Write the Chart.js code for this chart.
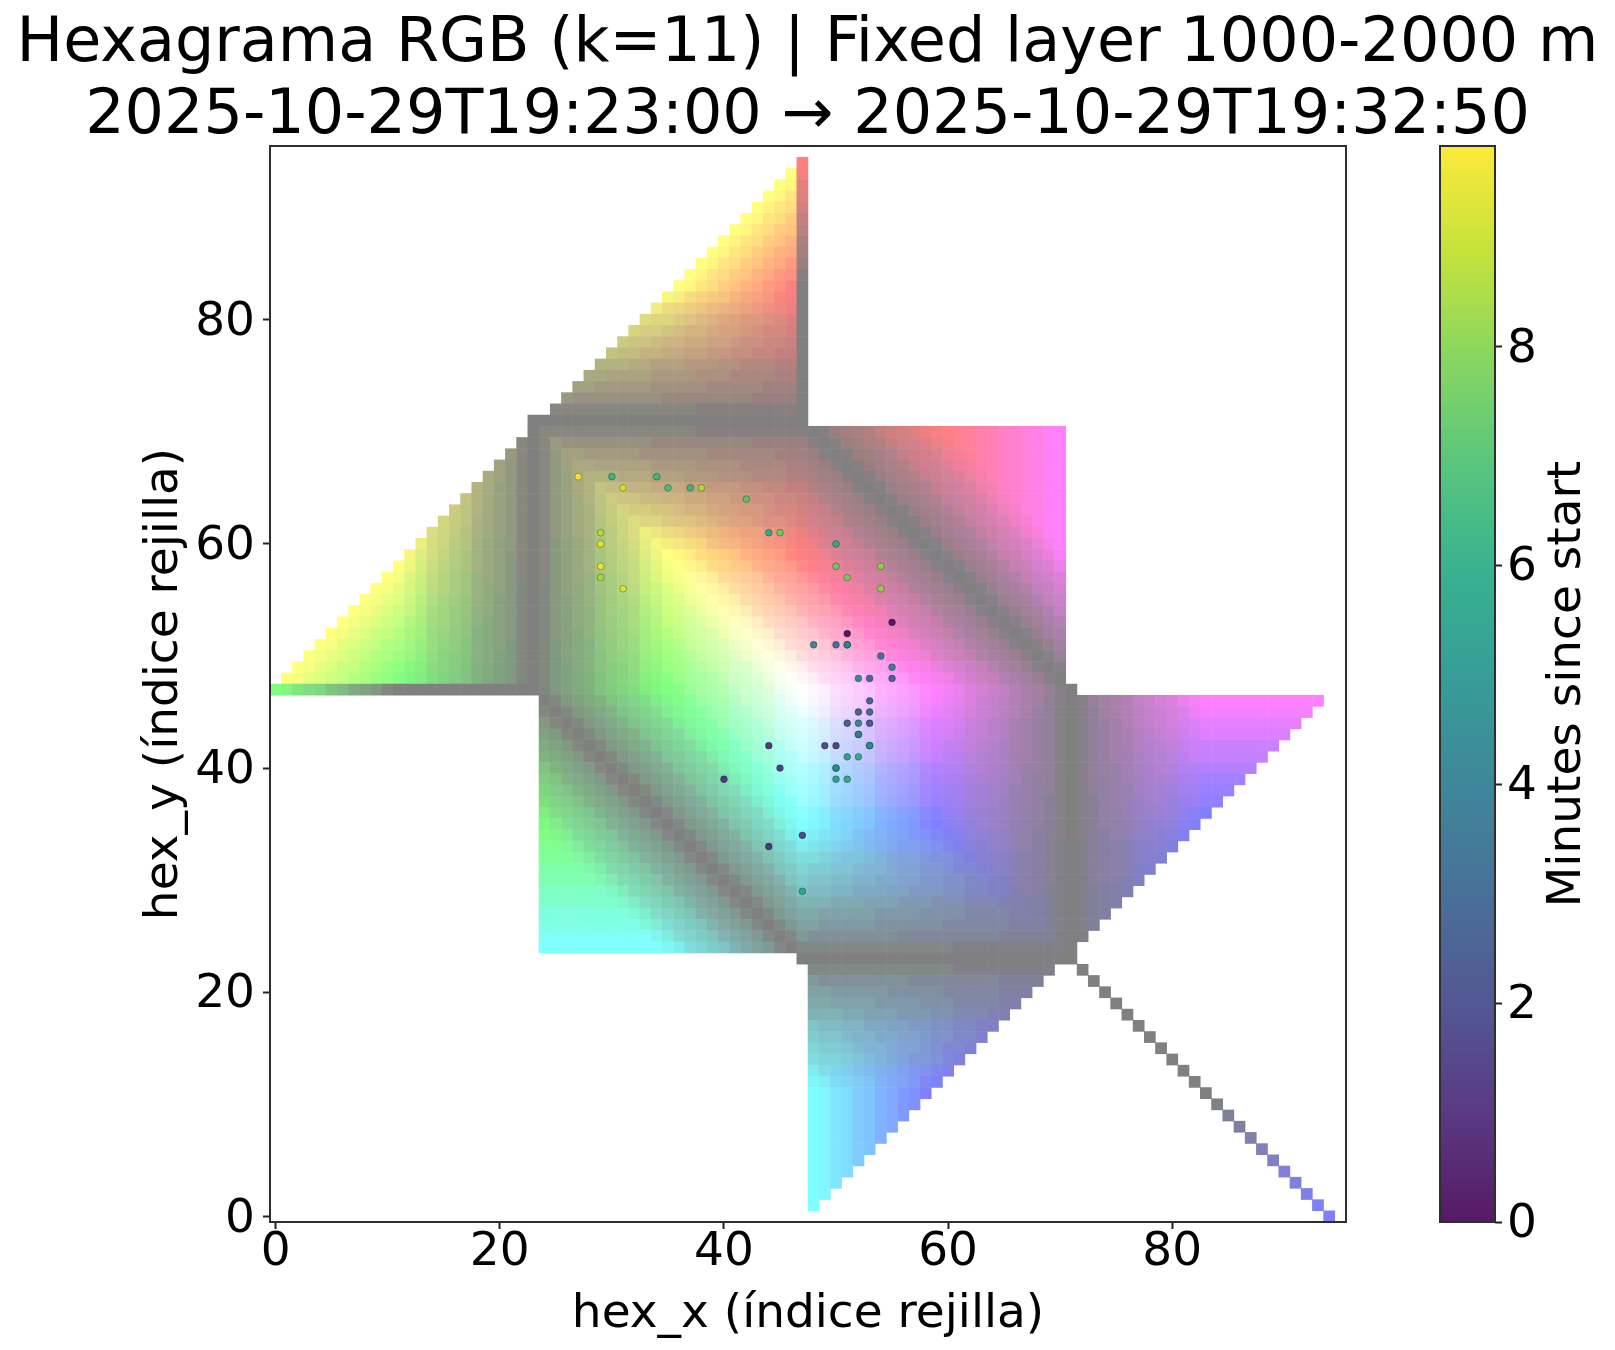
<!DOCTYPE html>
<html>
<head>
<meta charset="utf-8">
<title>Hexagrama RGB</title>
<script src="https://cdn.jsdelivr.net/npm/chart.js@4"></script>
<style>
html,body{margin:0;padding:0;background:#fff;}
canvas{position:absolute;left:0;top:0;}
</style>
</head>
<body>
<canvas id="hexChart" width="1615" height="1350"></canvas>
<canvas id="barChart" width="1615" height="1350"></canvas>
<script>
// Grid rows run from hex_y = 94 down to hex_y = 0.
const rowY = Array.from({length: 95}, (_, i) => 94 - i);

// First hex_x of each row.
const rowStart = [
47,46,45,44,43,42,41,40,39,38,37,36,35,34,33,32,31,30,29,28,27,26,25,23,
23,22,21,20,19,18,17,16,15,14,13,12,11,10,9,8,7,6,5,4,3,2,1,0,
24,24,24,24,24,24,24,24,24,24,24,24,24,24,24,24,24,24,24,24,24,24,24,47,
48,48,48,48,48,48,48,48,48,48,48,48,48,48,48,48,48,48,48,48,48,48,94];

// Channel levels per cell, one hex digit each (0 = 128, f = 255).
// "c{n}" repeats a digit n times, "." is an empty cell, a short row ends in level 0.
const redRows = [
"f","fe","ffc","fffb","ffffa","f{5}8","f{6}7","f{7}5","f{8}4","f{9}3","f{10}1","f{11}0",
"e{12}0","d{13}0","b{14}0","a{15}0","9{16}0","8{17}0","6{18}0","5{19}0","4{20}0","3{21}0","1{22}0",
"0{25}",
"01{24}01345689abdef{11}",
"10133{22}101345689abdef{10}",
"3101244{21}3101345689abdef{9}",
"421012455{20}43101345689abdef{8}",
"54210123566{19}543101345689abdef{7}",
"6532101235688{18}6543101345689abdef{6}",
"864321012346799{17}86543101345689abdef{5}",
"976432101234578aa{16}986543101345689abdef{4}",
"a8754321012345689bb{15}a986543101345689abdefff",
"b98654321012345679bdd{14}ba986543101345689abdeff",
"da97643221011234578acee{13}dba986543101345689abdef",
"eba865432110"+"112345689bd"+"f{13}"+"edba9865431"+"0"+"1345689abde",
"fda9765432110"+"112345678ac"+"e"+"f{12}"+"f"+"edba9865431"+"0"+"1345689abd",
"feb98654332110"+"1123345689b"+"de"+"f{11}"+"ff"+"edba9865431"+"0"+"1345689ab",
"fec"+"a8765432210"+"0"+"01223456789"+"bde"+"f{10}"+"fff"+"edba9865431"+"0"+"1345689a",
"fecb"+"97654332110"+"0"+"01123345678"+"abde"+"f{9}"+"f{4}"+"edba9865431"+"0"+"1345689",
"fecb9"+"86543322110"+"0"+"01122344567"+"9abde"+"f{8}"+"f{5}"+"edba9865431"+"0"+"134568",
"fecb98"+"65443221110"+"0"+"01122334556"+"89abde"+"f{7}"+"f{6}"+"edba9865431"+"0"+"13456",
"fecb986"+"54332211110"+"0"+"01112233445"+"689abde"+"f{6}"+"f{7}"+"edba9865431"+"0"+"1345",
"fecb9865"+"43322111100"+"0"+"00111223344"+"5689abde"+"f{5}"+"f{8}"+"edba9865431"+"0"+"134",
"fecb98653"+"32211111000"+"0"+"00111122233"+"45689abde"+"f{4}"+"f{9}"+"edba9865431"+"0"+"13",
"fecb986532"+"11111000000"+"0"+"00011111222"+"345689abde"+"f{3}"+"f{10}"+"edba9865431"+"0"+"1",
"fecb9865320"+"0{11}"+"0"+"0{6}1{5}"+"1345689abde"+"ff"+"f{11}"+"edba9865431"+"0",
"0{36}1345689abdef{13}edba98654310",
"0{13}1345689abdee{12}dcb98765421"+"01345689abdef{11}",
"0{14}1345689abdd{12}cba98765321"+"012456789abde{10}",
"0{15}1345689abb{12}ba987654321"+"012346789aabc{9}",
"0{16}1345689aa{12}a9887654321"+"01234567899ab{8}",
"0{17}13456899{12}88876554321"+"012345667889{8}",
"0{18}1345688{12}77766544321"+"012344566778{7}",
"0{19}134566{12}66665543321"+"012334556666{6}",
"0{20}13455{12}55555443221"+"0122344555554{4}",
"0{21}1344{12}44444433221"+"0122334444443{3}",
"0{22}133{12}34444333211"+"01123334433322",
"0{23}11{12}23333332211"+"0112233333210",
"0{36}12233322211"+"011222222210",
"0{37}1222222111"+"01112222110",
"0{38}112222110"+"0011111110",
"0{39}11111110"+"001111110",
"0{40}1111110"+"00111100",
"0{41}011110"+"0011100",
"0{42}01100"+"000000",
"0{52}","0{51}","0{50}","0{49}","0{48}",
"0{25}",
"0{22}.{2}0","0{21}.{4}0","0{20}.{6}0","0{19}.{8}0","0{18}.{10}0","0{17}.{12}0","0{16}.{14}0","0{15}.{16}0",
"0{14}.{18}0","0{13}.{20}0","0{12}.{22}0","0{11}.{24}0","0{10}.{26}0","0{9}.{28}0","0{8}.{30}0","0{7}.{32}0",
"0{6}.{34}0","0{5}.{36}0","0{4}.{38}0","0{3}.{40}0","00.{42}0","0.{44}0",
"0"];

const greenRows = [
"0","f0","fe0","fec0","fecb0","fecb90","fecb980","fecb9860","fecb98650","fecb986530","fecb9865320","fecb98653200",
"edba986543100","dba98765432100","baa987654332100","a998766544321100","98876655443221100","877665544332211000",
"6665544433322111000","55444433332221111000","443333322222111110000","32{8}1{8}0{5}","1{13}0{10}",
"",
"01{14}",
"10132{8}1{9}",
"310134433333222222111111",
"43101345544444333322221111",
"543101345666555444333222111",
"6543101345687766555443332211",
"865431013456898877665544332211",
"986543101345689a998876654433211",
"a986543101345689abaa988765443221",
"ba986543101345689abdcba9876544321",
"dba986543101345689abdedcba87654321",
"edba986543101345689abdefedba9865431",
"fedba986543101345689abdeffedba9865431",
"ffedba986543101345689abdefffedba9865431",
"fffedba986543101345689abdeffffedba9865431",
"f{4}edba986543101345689abdef{5}edba9865431",
"f{5}edba986543101345689abdef{6}edba9865431",
"f{6}edba986543101345689abdef{7}edba9865431",
"f{7}edba986543101345689abdef{8}edba9865431",
"f{8}edba986543101345689abdef{9}edba9865431",
"f{9}edba986543101345689abdef{10}edba9865431",
"f{10}edba986543101345689abdef{11}edba9865431",
"f{11}edba986543101345689abdef{12}edba9865431",
"fecba8754310"+"0{12}1345689abdef{13}edba98654310",
"01345689abdef{12}edba98654310",
"101345689abdef{11}edba98654310",
"3101345689abdef{10}edba98654310",
"43101345689abdef{9}edba98654310",
"543101345689abdef{8}edba98654310",
"6543101345689abdef{7}edba98654310",
"86543101345689abdef{6}edba98654310",
"986543101345689abdef{5}edba98654310",
"a986543101345689abdef{4}edba98654310",
"ba986543101345689abdef{3}edba98654310",
"dba986543101345689abdeffedba98654310",
"edba986543101345689abdefedba98654310",
"fedba986543101345689abdedcba87654321",
"ffedba986543101345689abdcba9876544321",
"fffedba986543101345689abba988765443221",
"f{4}edba986543101345689a998876654433211",
"f{5}edba9865431013456898877665544332211",
"f{6}edba986543101345687766555443332211",
"f{7}edba986543101345666555444333222111",
"f{8}edba986543101345544444333322221111",
"f{9}edba98654310134433333222222111111",
"f{10}edba98654310132{8}1{9}",
"f{11}edba9865431011{13}",
"",
"1{13}","32{8}1{8}","44333332222211111","55444433332221111","6665544433322111","877665544332211",
"988766554432211","a9987665443211","baa9876543321","dba987654321","edba9865431",
"fecb9865320","fecb986532","fecb98653","fecb9865","fecb986","fecb98","fecb9","fecb","fec","fe","f",
""];

const blueRows = [
"","","","","","","","","","","","","","","","","","","","","","","","",
"0{38}235689bcef",
"0{34}1{5}235689bcef",
"0{33}1{5}22335689bcef",
"0{34}1{4}223345689bcef",
"0{35}1{4}223345689bcef",
"0{31}110000111223445689bcef",
"0{32}111100011223445689bcef",
"0{32}1111110001123345679bcef",
"0{33}1{7}000122345678acef",
"0{34}11222211001123345689bef",
"0{35}12222221110112345679adf",
"0{36}12233322211011234568abe",
"0{25}1{12}123333332211012234679ad",
"0{26}13{11}3334444333211012345689b",
"0{27}134{10}4{9}3322101234578a",
"0{28}1345{9}5{9}44322101234679",
"0{29}13456{8}6{9}55433210123468",
"0{30}134568{7}8{6}77766544321012356",
"0{31}1345689{6}9{7}8887655432101245",
"0{32}1345689a{5}a{9}98876543210124",
"0{33}1345689ab{4}b{10}a987654321013",
"0{34}1345689abd{3}d{10}cba9876432101",
"0{35}1345689abde{2}e{11}dcb987654210",
"0{36}1345689abdef{13}edba9865431",
"0{7}1{6}345689abdef{13}edba986543101345689abdef{11}",
"0{5}1{5}222345689abdef{13}edba986543101345689abdef{10}",
"0{5}1{4}2{3}3345689abdef{13}edba986543101345689abdef{9}",
"0{6}1112233445689abdef{13}edba986543101345689abdef{8}",
"0{6}1112233445689abdef{13}edba986543101345689abdef{7}",
"0{7}112233445689abdef{13}edba986543101345689abdef{6}",
"0011100011223445679abdef{13}edba986543101345689abdef{5}",
"0011110001123345678abdef{13}edba986543101345689abdef{4}",
"0111111000122345678abdef{13}edba986543101345689abdef{3}",
"01111111001123345689bdef{13}edba986543101345689abdef{2}",
"01122221110112345678acef{13}edba986543101345689abdef",
"012222222110112345689bdf{13}edba986543101345689abde",
"012333332211012234578acee{13}dba98654310"+"1345689abd",
"2233344333211012345679bdd{14}ba98654310"+"1345689ab",
"33344444433221012345689bb{15}a98654310"+"1345689a",
"5{9}44322101234578aa{16}98654310"+"1345689",
"6{9}5543321012346799{17}8654310"+"134568",
"8{7}776654432101234688{18}654310"+"13456",
"9{8}88766543210123566{19}54310"+"1345",
"b{8}a9987654321012455{20}4310"+"134",
"c{9}baa9876432101244{21}310"+"13",
"e{10}dba987654210133{22}10"+"1",
"f{11}edba986543101"+"1{23}",
"",
"1{22}","3{21}","4{20}","5{19}","6{18}","8{17}","9{16}","a{15}","b{14}","d{13}","e{12}","f{11}",
"f{10}.{26}1","f{9}.{28}3","f{8}.{30}4","f{7}.{32}5","f{6}.{34}7","f{5}.{36}8","f{4}.{38}a","f{3}.{40}b","ff.{42}c","f.{44}e",
"f"];

// Observations, with elapsed minutes.
const dotX = [27,30,34,31,35,37,38,42,44,45,29,29,29,29,31,48,50,50,54,51,54,55,51,50,51,51,54,55,52,53,55,53,52,53,51,52,53,52,52,49,50,53,53,51,52,50,50,50,51,47,47,44,45,40,44];
const dotY = [66,66,66,65,65,65,65,64,61,61,61,60,58,57,56,51,60,58,58,57,56,53,52,51,51,51,50,49,48,48,48,46,45,45,44,44,44,43,43,42,42,42,42,41,41,40,40,39,39,34,29,42,40,39,33];
const dotMinutes = [9.8,6.3,6.5,9.2,6.7,6.4,8.6,7.0,5.9,7.4,8.7,9.5,9.7,8.5,9.3,4.2,6.0,7.4,8.1,7.7,8.1,0.3,0.1,3.2,4.7,4.4,3.6,4.0,4.3,3.0,2.8,2.6,2.6,2.9,2.3,4.1,2.2,4.5,4.2,1.6,1.4,5.0,4.7,5.2,5.7,5.0,4.7,5.2,5.7,1.5,5.8,1.1,1.2,1.1,1.1];

const xTicks = [0,20,40,60,80];
const yTicks = [0,20,40,60,80];
const barTicks = [0,2,4,6,8];
const minutesRange = [0, 9.83];
const titleLines = ["Hexagrama RGB (k=11) | Fixed layer 1000-2000 m","2025-10-29T19:23:00 \u2192 2025-10-29T19:32:50"];
const xTitle = "hex_x (\u00edndice rejilla)";
const yTitle = "hex_y (\u00edndice rejilla)";
const barTitle = "Minutes since start";

const viridis = ["#440154","#482475","#414487","#355f8d","#2a788e","#21918c","#22a884","#44bf70","#7ad151","#bddf26","#fde725"];
const FONT = "'DejaVu Sans'";
const LABEL_SIZE = 47;

function rgbOf(hex){ return [1,3,5].map(i => parseInt(hex.substr(i,2),16)); }
function viridisAt(f, alpha){
  const p = Math.max(0, Math.min(1, f)) * (viridis.length - 1);
  const i = Math.min(viridis.length - 2, Math.floor(p));
  const a = rgbOf(viridis[i]), b = rgbOf(viridis[i+1]), k = p - i;
  const c = a.map((v,n) => Math.round(v + (b[n]-v)*k));
  return `rgba(${c[0]},${c[1]},${c[2]},${alpha})`;
}
function expand(s){ return s.replace(/(.)\{(\d+)\}/g, (_, c, n) => c.repeat(+n)); }
function channel(ch){ const v = parseInt(ch, 16); return Math.round(128 + (isNaN(v) ? 0 : v) * 127 / 15); }

// Build the cell table from the channel rows.
const cellPoints = [], cellColours = [];
rowY.forEach((y, i) => {
  const r = expand(redRows[i]), g = expand(greenRows[i]), b = expand(blueRows[i]);
  for (let k = 0; k < r.length; k++) {
    if (r[k] === ".") continue;
    cellPoints.push({x: rowStart[i] + k, y});
    cellColours.push(`rgb(${channel(r[k])},${channel(g[k]||"0")},${channel(b[k]||"0")})`);
  }
});

const dotPoints = dotX.map((x, i) => ({x, y: dotY[i]}));
const dotColours = dotMinutes.map(m => viridisAt((m - minutesRange[0]) / (minutesRange[1] - minutesRange[0]), 0.9));

Chart.defaults.font.family = FONT;
Chart.defaults.color = "#000";
Chart.defaults.animation = false;

const spines = {
  id: "spines",
  afterDatasetsDraw(chart){
    const {ctx, chartArea: a} = chart;
    ctx.save();
    ctx.strokeStyle = "#2e2e2e";
    ctx.lineWidth = 2;
    ctx.strokeRect(a.left, a.top, a.right - a.left, a.bottom - a.top);
    ctx.restore();
  }
};

// Two centred title lines across the full figure width.
const figureTitle = {
  id: "figureTitle",
  afterDraw(chart){
    const {ctx, width} = chart;
    ctx.save();
    ctx.fillStyle = "#000";
    ctx.textAlign = "center";
    ctx.textBaseline = "alphabetic";
    ctx.font = `62px ${FONT}`;
    ctx.fillText(titleLines[0], width / 2, 61);
    ctx.fillText(titleLines[1], width / 2, 133);
    ctx.restore();
  }
};

const axisStyle = {
  border: {display: false},
  grid: {drawOnChartArea: false, drawTicks: true, tickLength: 7, tickWidth: 2, tickColor: "#222"}
};

new Chart(document.getElementById("hexChart"), {
  type: "scatter",
  data: {datasets: [
    {data: dotPoints, order: 0, parsing: false, pointStyle: "circle", pointRadius: 3.4,
     pointBackgroundColor: dotColours, pointBorderColor: "rgba(0,0,0,0.28)", pointBorderWidth: 1},
    {data: cellPoints, order: 1, parsing: false, pointStyle: "rect", pointRadius: 8.3,
     pointBackgroundColor: cellColours, pointBorderWidth: 0, pointHoverRadius: 8.3}
  ]},
  plugins: [spines, figureTitle],
  options: {
    responsive: false,
    events: [],
    layout: {padding: {left: 0, right: 269, top: 146, bottom: 0}},
    plugins: {legend: {display: false}, tooltip: {enabled: false}, title: {display: false}},
    scales: {
      x: {type: "linear", min: -0.5, max: 95.5, position: "bottom", ...axisStyle,
        afterFit(s){ s.height = 128; },
        afterBuildTicks(s){ s.ticks = xTicks.map(value => ({value})); },
        ticks: {font: {size: LABEL_SIZE}, padding: -4, maxRotation: 0, autoSkip: false},
        title: {display: true, text: xTitle, font: {size: LABEL_SIZE}, padding: {top: 0, bottom: 7}}},
      y: {type: "linear", min: -0.5, max: 95.5, position: "left", ...axisStyle,
        afterFit(s){ s.width = 270; },
        afterBuildTicks(s){ s.ticks = yTicks.map(value => ({value})); },
        ticks: {font: {size: LABEL_SIZE}, padding: 8, labelOffset: 3, autoSkip: false},
        title: {display: true, text: yTitle, font: {size: LABEL_SIZE}, padding: {top: 137, bottom: 0}}}
    }
  }
});

const barLabel = {
  id: "barLabel",
  afterDraw(chart){
    const {ctx, chartArea: a} = chart;
    ctx.save();
    ctx.translate(1568, (a.top + a.bottom) / 2);
    ctx.rotate(-Math.PI / 2);
    ctx.textAlign = "center";
    ctx.textBaseline = "middle";
    ctx.fillStyle = "#000";
    ctx.font = `${LABEL_SIZE}px ${FONT}`;
    ctx.fillText(barTitle, 0, 0);
    ctx.restore();
  }
};

new Chart(document.getElementById("barChart"), {
  type: "bar",
  data: {labels: [""], datasets: [{
    data: [minutesRange],
    barPercentage: 1, categoryPercentage: 1, borderWidth: 0,
    backgroundColor(ctx){
      const a = ctx.chart.chartArea;
      if (!a) return "#000";
      const g = ctx.chart.ctx.createLinearGradient(0, a.bottom, 0, a.top);
      viridis.forEach((_, i) => g.addColorStop(i / (viridis.length - 1), viridisAt(i / (viridis.length - 1), 0.9)));
      return g;
    }
  }]},
  plugins: [spines, barLabel],
  options: {
    responsive: false,
    events: [],
    layout: {padding: {left: 1440, right: 0, top: 146, bottom: 128}},
    plugins: {legend: {display: false}, tooltip: {enabled: false}, title: {display: false}},
    scales: {
      x: {display: false},
      y: {type: "linear", position: "right", min: minutesRange[0], max: minutesRange[1], ...axisStyle,
        afterFit(s){ s.width = 120; },
        afterBuildTicks(s){ s.ticks = barTicks.map(value => ({value})); },
        ticks: {font: {size: LABEL_SIZE}, padding: 5, labelOffset: 3, autoSkip: false}}
    }
  }
});
</script>
</body>
</html>
